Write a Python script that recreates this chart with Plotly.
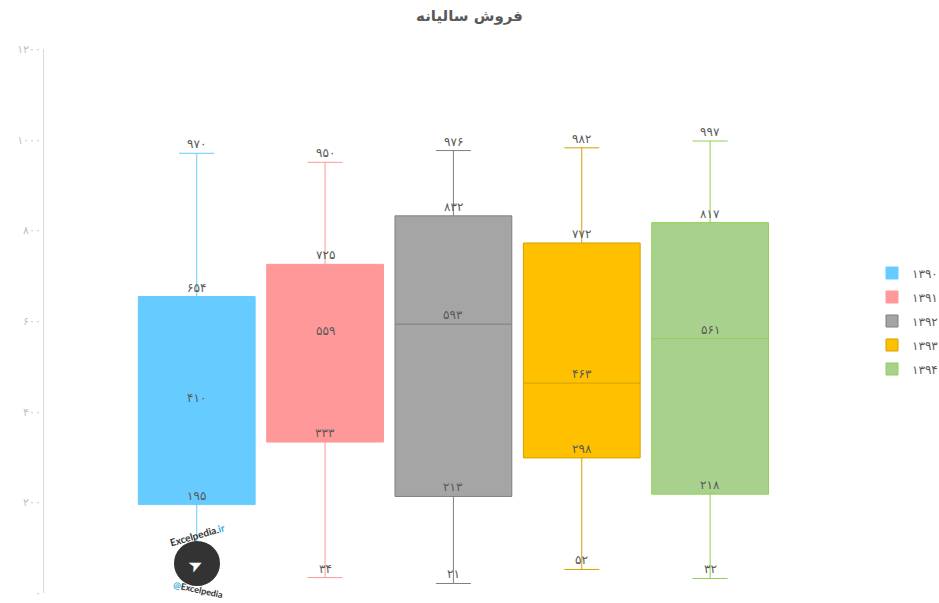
import plotly.graph_objects as go

# yearly sales box plot (Persian labels)
years = ["۱۳۹۰", "۱۳۹۱", "۱۳۹۲", "۱۳۹۳", "۱۳۹۴"]
max_vals = [970, 950, 976, 982, 997]
q3_vals = [654, 725, 832, 772, 817]
median_vals = [410, 559, 593, 463, 561]
q1_vals = [195, 333, 213, 298, 218]
min_vals = [60, 34, 21, 52, 32]

fill_colors = ["#66CCFF", "#FF9999", "#A5A5A5", "#FFC000", "#A9D18E"]
line_colors = ["#66CCFF", "#FF9999", "#7F7F7F", "#D4A000", "#92D050"]

y_ticks = [0, 200, 400, 600, 800, 1000, 1200]

FA_DIGITS = str.maketrans("0123456789", "۰۱۲۳۴۵۶۷۸۹")


def fa(n):
    return str(n).translate(FA_DIGITS)


fig = go.Figure()

for i, year in enumerate(years):
    fig.add_trace(go.Box(
        x=[year],
        q1=[q1_vals[i]],
        median=[median_vals[i]],
        q3=[q3_vals[i]],
        lowerfence=[min_vals[i]],
        upperfence=[max_vals[i]],
        name=year,
        legendgroup=year,
        fillcolor=fill_colors[i],
        line=dict(color=line_colors[i], width=1),
        width=0.91,
        whiskerwidth=0.3,
        boxpoints=False,
        hoverinfo="skip",
    ))

    # data labels sit just above each value
    for j, v in enumerate([max_vals[i], q3_vals[i], median_vals[i], q1_vals[i], min_vals[i]]):
        if i == 0 and j == 4:
            continue  # hidden behind the watermark in the original
        fig.add_annotation(
            x=year, y=v, text=fa(v), showarrow=False,
            yanchor="bottom", yshift=0,
            font=dict(size=12, color="#595959"),
        )


def px_x(p):
    return (p - 44) / 806


def px_y(p):
    return (593 - p) / 544


# watermark logo approximation
fig.add_shape(type="circle", xref="paper", yref="paper",
              x0=px_x(175), x1=px_x(219), y0=px_y(585), y1=px_y(542),
              fillcolor="#333333", line=dict(color="#333333"), layer="above")
logo_text = [
    ("<b>Excelpedia.<span style='color:#29A9E0'>ir</span></b>", 197, 535, -16, 10, "#333333"),
    ("<b><span style='color:#29A9E0'>@</span>Excelpedia</b>", 198, 589, 12, 9, "#333333"),
    ("➤", 195, 564, -25, 17, "white"),
]
for txt, lx, ly, ang, size, col in logo_text:
    fig.add_annotation(xref="paper", yref="paper", x=px_x(lx), y=px_y(ly),
                       xanchor="center", yanchor="middle", text=txt, showarrow=False,
                       font=dict(size=size, color=col, family="Lato, DejaVu Sans"),
                       textangle=ang)

fig.update_layout(
    width=939, height=603,
    title=dict(text="<b>فروش سالیانه</b>", x=0.5, xanchor="center", y=0.982, yanchor="top",
               font=dict(size=15, color="#595959")),
    font=dict(family="DejaVu Sans, Noto Sans", color="#595959"),
    boxmode="overlay",
    plot_bgcolor="white",
    paper_bgcolor="white",
    margin=dict(l=44, r=89, t=49, b=10, autoexpand=False),
    showlegend=True,
    legend=dict(xref="container", x=872 / 939, xanchor="left", y=0.5, yanchor="middle",
                font=dict(size=12, color="#595959"), tracegroupgap=5,
                traceorder="grouped"),
)

fig.update_xaxes(range=[-1.19, 5.09], showticklabels=False, showgrid=False,
                 showline=False, zeroline=False, ticks="", automargin=False)
fig.update_yaxes(range=[0, 1200], tickvals=y_ticks, ticktext=[fa(t) for t in y_ticks],
                 tickfont=dict(size=11, color="#BFBFBF"), showgrid=False,
                 showline=True, linecolor="#D9D9D9", zeroline=False, ticks="",
                 automargin=False)

fig.write_html(
    "out.html",
    config={"responsive": False, "displayModeBar": False},
    post_script="document.body.style.margin='0';document.body.style.overflow='hidden';",
)
